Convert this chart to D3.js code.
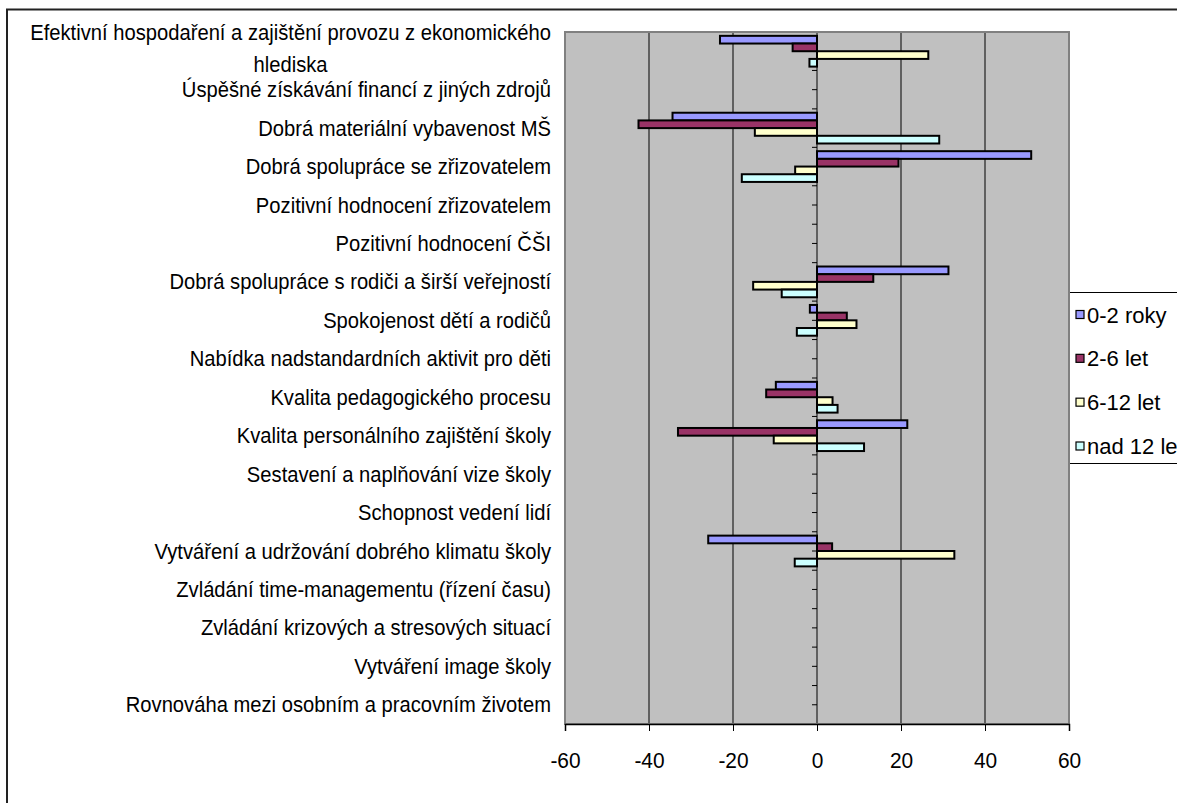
<!DOCTYPE html>
<html>
<head>
<meta charset="utf-8">
<script src="https://cdn.jsdelivr.net/npm/d3@7"></script>
<style>
  html, body { margin: 0; padding: 0; background: #fff; overflow: hidden; }
  svg { display: block; }
  text { font-family: "Liberation Sans", Arial, sans-serif; font-size: 22px; fill: #000; }
</style>
</head>
<body>
<svg id="chart" width="1177" height="803"></svg>
<script>
// Kategorie (shora dolů)
const categories = [
  "Efektivní hospodaření a zajištění provozu z ekonomického hlediska",
  "Úspěšné získávání financí z jiných zdrojů",
  "Dobrá materiální vybavenost MŠ",
  "Dobrá spolupráce se zřizovatelem",
  "Pozitivní hodnocení zřizovatelem",
  "Pozitivní hodnocení ČŠI",
  "Dobrá spolupráce s rodiči a širší veřejností",
  "Spokojenost dětí a rodičů",
  "Nabídka nadstandardních aktivit pro děti",
  "Kvalita pedagogického procesu",
  "Kvalita personálního zajištění školy",
  "Sestavení a naplňování vize školy",
  "Schopnost vedení lidí",
  "Vytváření a udržování dobrého klimatu školy",
  "Zvládání time-managementu (řízení času)",
  "Zvládání krizových a stresových situací",
  "Vytváření image školy",
  "Rovnováha mezi osobním a pracovním životem"
];

// Délka praxe ředitele
const seriesNames = ["0-2 roky", "2-6 let", "6-12 let", "nad 12 let"];
const seriesColors = ["#9999FF", "#993366", "#FFFFCC", "#CCFFFF"];

const values02 = [-23.1, null, -34.4, 51.0, null, null, 31.3, -1.7, null, -9.8, 21.5, null, null, -25.9, null, null, null, null];
const values26 = [-5.8, null, -42.5, 19.4, null, null, 13.4, 7.1, null, -12.1, -33.1, null, null, 3.6, null, null, null, null];
const values612 = [26.5, null, -14.8, -5.2, null, null, -15.2, 9.4, null, 3.7, -10.3, null, null, 32.7, null, null, null, null];
const values12 = [-1.8, null, 29.1, -17.9, null, null, -8.4, -4.8, null, 4.9, 11.2, null, null, -5.3, null, null, null, null];

const xTicks = [-60, -40, -20, 0, 20, 40, 60];

const seriesValues = [values02, values26, values612, values12];

const svg = d3.select("#chart");

// Oblast grafu
const plot = { left: 565, right: 1069, top: 32, bottom: 724 };

const x = d3.scaleLinear().domain([-60, 60]).range([plot.left, plot.right]);
const y = d3.scaleBand().domain(categories).range([plot.top, plot.bottom]).padding(0);
const ySeries = d3.scaleBand().domain(seriesNames).range([0, y.bandwidth()])
  .paddingInner(0).paddingOuter(0.5);

// Vnější rámeček grafu
svg.append("rect")
  .attr("x", 7).attr("y", 9.5)
  .attr("width", 1300).attr("height", 900)
  .attr("fill", "#fff").attr("stroke", "#222").attr("stroke-width", 2);

// Legenda (přesahuje pravý okraj plátna)
const legend = svg.append("g");
legend.append("rect")
  .attr("x", 1069.5).attr("y", 292.5)
  .attr("width", 200).attr("height", 171)
  .attr("fill", "#fff").attr("stroke", "#000").attr("stroke-width", 1);
const ly = d3.scalePoint().domain(seriesNames).range([315, 446.5]);
seriesNames.forEach((name, i) => {
  const cy = ly(name);
  legend.append("rect")
    .attr("x", 1076).attr("y", cy - 4.5)
    .attr("width", 8).attr("height", 8)
    .attr("fill", seriesColors[i]).attr("stroke", "#000").attr("stroke-width", 1.2);
  legend.append("text")
    .attr("x", 1087).attr("y", cy + 7.5)
    .text(name);
});

// Pozadí oblasti grafu
svg.append("rect")
  .attr("x", plot.left).attr("y", plot.top)
  .attr("width", plot.right - plot.left).attr("height", plot.bottom - plot.top)
  .attr("fill", "#C0C0C0");

// Mřížka
svg.append("g")
  .selectAll("line")
  .data(xTicks.filter(t => t !== 0 && t !== -60 && t !== 60))
  .join("line")
  .attr("x1", d => x(d)).attr("x2", d => x(d))
  .attr("y1", plot.top).attr("y2", plot.bottom)
  .attr("stroke", "#000").attr("stroke-width", 1);

// Osa kategorií v nule se značkami
const catAxis = svg.append("g");
catAxis.append("line")
  .attr("x1", x(0)).attr("x2", x(0))
  .attr("y1", plot.top).attr("y2", plot.bottom)
  .attr("stroke", "#000").attr("stroke-width", 1);
const tickYs = [];
categories.forEach(c => {
  tickYs.push(y(c));
  tickYs.push(y(c) + y.bandwidth() / 2);
});
tickYs.push(plot.bottom);
catAxis.selectAll("line.tick")
  .data(tickYs)
  .join("line")
  .attr("class", "tick")
  .attr("x1", x(0) - 5).attr("x2", x(0))
  .attr("y1", d => d).attr("y2", d => d)
  .attr("stroke", "#000").attr("stroke-width", 1);

// Pruhy
seriesNames.forEach((name, si) => {
  const rows = categories
    .map((c, ci) => ({ c, v: seriesValues[si][ci] }))
    .filter(d => d.v !== null);
  svg.append("g")
    .selectAll("rect")
    .data(rows)
    .join("rect")
    .attr("x", d => Math.min(x(0), x(d.v)))
    .attr("y", d => y(d.c) + ySeries(name))
    .attr("width", d => Math.abs(x(d.v) - x(0)))
    .attr("height", ySeries.bandwidth())
    .attr("fill", seriesColors[si])
    .attr("stroke", "#000")
    .attr("stroke-width", 2);
});

// Rámeček oblasti grafu
svg.append("rect")
  .attr("x", plot.left).attr("y", plot.top)
  .attr("width", plot.right - plot.left).attr("height", plot.bottom - plot.top)
  .attr("fill", "none").attr("stroke", "#808080").attr("stroke-width", 2);

// Osa hodnot
const xAxis = d3.axisBottom(x).tickValues(xTicks).tickSize(7).tickPadding(21).tickFormat(d3.format("d"));
const xg = svg.append("g")
  .attr("transform", `translate(0,${plot.bottom})`)
  .call(xAxis);
xg.select(".domain").attr("stroke", "#000").attr("stroke-width", 1.5);
xg.selectAll(".tick line").attr("stroke", "#000");
xg.selectAll(".tick text")
  .attr("font-family", "Liberation Sans, Arial, sans-serif")
  .attr("font-size", 22)
  .attr("fill", "#000")
  .attr("dy", "0.71em")
  .attr("x", 0)
  .attr("transform", "scale(0.95,1)")
  .text(d => d < 0 ? "-" + Math.abs(d) : String(d));

// Popisky kategorií (zarovnané vpravo, dlouhé zalomené a vystředěné)
const labelRight = 551;
const labelSx = 0.918;
const maxLabelWidth = 540;
const lineHeight = 31.7;
const labels = svg.append("g");
function measure(str) {
  const t = labels.append("text").text(str);
  const w = t.node().getComputedTextLength() * labelSx;
  t.remove();
  return w;
}
categories.forEach(c => {
  const cy = y(c) + y.bandwidth() / 2;
  if (measure(c) <= maxLabelWidth) {
    labels.append("text")
      .attr("transform", `translate(${labelRight},${cy + 7.5}) scale(${labelSx},1)`)
      .attr("text-anchor", "end")
      .text(c);
  } else {
    const words = c.split(" ");
    const lines = [];
    let cur = [];
    words.forEach(w => {
      const test = cur.concat([w]).join(" ");
      if (measure(test) > maxLabelWidth && cur.length) {
        lines.push(cur.join(" "));
        cur = [w];
      } else {
        cur.push(w);
      }
    });
    if (cur.length) lines.push(cur.join(" "));
    const widest = d3.max(lines, measure);
    const cx = labelRight - widest / 2;
    const n = lines.length;
    lines.forEach((l, i) => {
      labels.append("text")
        .attr("transform", `translate(${cx},${cy + 5 + (i - (n - 1) / 2) * lineHeight}) scale(${labelSx},1)`)
        .attr("text-anchor", "middle")
        .text(l);
    });
  }
});
</script>
</body>
</html>
